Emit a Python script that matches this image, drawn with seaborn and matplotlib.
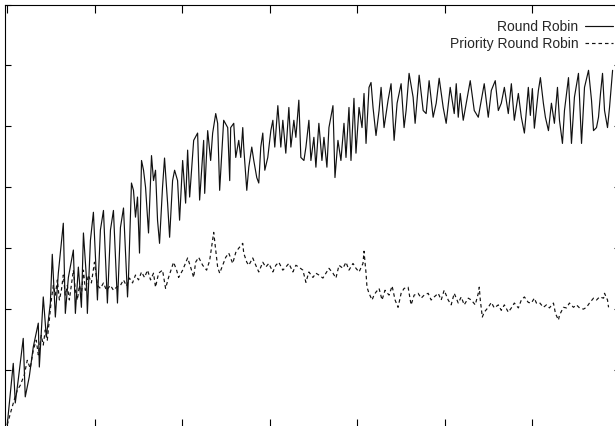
import pandas as pd
import seaborn as sns
import matplotlib.pyplot as plt

# Round Robin (solid line)
rr_time = [
    0.0, 0.69, 0.92, 1.26, 1.83, 2.06, 2.52, 2.98, 3.55, 3.67,
    4.12, 4.47, 4.93, 5.15, 5.50, 5.84, 6.41, 6.64, 6.99, 7.56,
    7.79, 8.13, 8.48, 8.71, 9.05, 9.16, 9.51, 9.85, 10.31, 10.65,
    11.0, 11.45, 11.8, 12.14, 12.6, 12.94, 13.29, 13.75, 13.86, 14.2,
    14.43, 14.66, 14.89, 15.12, 15.35, 15.58, 15.81, 16.15, 16.49, 16.72,
    16.95, 17.18, 17.41, 17.75, 17.98, 18.33, 18.56, 18.9, 19.13, 19.47,
    19.7, 20.05, 20.39, 20.62, 20.85, 21.31, 21.76, 21.99, 22.45, 22.57,
    22.91, 23.25, 23.48, 23.83, 24.05, 24.28, 24.74, 25.2, 25.43, 25.54,
    25.89, 26.12, 26.46, 26.69, 26.92, 27.03, 27.38, 27.61, 27.95, 28.18,
    28.52, 28.75, 28.98, 29.21, 29.44, 29.78, 30.13, 30.36, 30.58, 30.93,
    31.27, 31.5, 31.84, 32.19, 32.42, 32.76, 32.99, 33.33, 33.56, 33.91,
    34.14, 34.48, 34.71, 35.05, 35.28, 35.62, 35.97, 36.2, 36.54, 36.77,
    37.23, 37.46, 37.8, 38.14, 38.49, 38.72, 39.06, 39.29, 39.63, 39.86,
    40.21, 40.55, 40.78, 41.01, 41.35, 41.58, 41.81, 42.15, 42.5, 42.73,
    43.07, 43.53, 43.87, 44.22, 44.56, 45.02, 45.36, 45.59, 45.93, 46.39,
    46.62, 47.08, 47.54, 47.88, 48.22, 48.68, 49.03, 49.37, 49.83, 50.17,
    50.63, 51.09, 51.32, 51.55, 51.78, 52.12, 52.46, 52.92, 53.38, 53.84,
    54.18, 54.52, 54.98, 55.33, 55.78, 56.13, 56.47, 56.82, 57.27, 57.62,
    57.96, 58.42, 58.76, 59.11, 59.34, 59.56, 59.79, 60.02, 60.25, 60.71,
    60.94, 61.28, 61.51, 61.86, 62.2, 62.54, 62.89, 63.12, 63.46, 63.69,
    64.15, 64.49, 64.83, 65.29, 65.64, 65.98, 66.44, 66.78, 67.01, 67.35,
    67.58, 67.81, 68.04, 68.27, 68.61, 68.84, 69.19,
]
rr_value = [
    1.0, 11.1, 4.6, 8.4, 15.2, 5.6, 8.9, 13.8, 17.7, 10.5,
    22.0, 15.4, 21.0, 29.0, 18.7, 25.9, 34.1, 19.3, 25.2, 29.7,
    19.3, 26.9, 20.3, 32.5, 25.2, 19.3, 31.3, 35.9, 21.5, 33.0,
    36.2, 21.0, 33.0, 36.2, 21.0, 33.4, 36.6, 22.0, 25.2, 40.7,
    39.5, 35.1, 38.4, 29.2, 44.4, 42.8, 40.0, 32.5, 45.2, 41.1,
    42.8, 34.6, 30.8, 40.0, 44.8, 37.4, 31.8, 41.1, 42.8, 41.1,
    34.6, 44.4, 37.4, 46.1, 38.4, 47.7, 48.9, 37.9, 47.7, 39.0,
    49.3, 44.4, 48.9, 52.1, 50.5, 39.5, 51.0, 49.8, 41.1, 49.8,
    50.5, 44.9, 47.7, 44.9, 49.8, 46.6, 39.5, 43.3, 46.6, 44.4,
    41.6, 40.7, 46.6, 48.9, 42.8, 44.9, 49.3, 51.0, 46.6, 53.4,
    46.6, 51.0, 45.6, 53.1, 46.6, 51.0, 48.2, 54.3, 44.9, 44.4,
    46.6, 51.0, 44.4, 48.2, 43.3, 50.5, 44.4, 48.2, 43.3, 49.8,
    53.4, 41.6, 47.7, 44.4, 50.5, 44.9, 53.1, 44.4, 54.6, 45.6,
    53.1, 49.8, 55.4, 47.2, 56.4, 57.2, 53.1, 48.5, 52.6, 56.4,
    49.8, 54.3, 57.0, 47.7, 53.8, 57.0, 49.8, 52.6, 58.7, 54.8,
    50.5, 58.4, 52.6, 52.1, 57.5, 51.5, 53.8, 57.9, 53.1, 50.5,
    56.4, 52.1, 57.0, 51.5, 55.4, 51.0, 53.8, 57.5, 52.6, 51.5,
    54.3, 57.0, 51.5, 55.9, 57.5, 52.6, 53.8, 56.4, 52.1, 57.0,
    51.0, 55.4, 51.5, 48.9, 52.6, 56.4, 51.8, 56.2, 49.7, 55.9,
    58.0, 53.8, 51.5, 49.3, 53.8, 50.5, 56.4, 51.0, 47.2, 52.6,
    58.0, 47.2, 54.8, 58.7, 47.2, 56.4, 59.2, 54.3, 49.3, 49.8,
    51.5, 55.4, 58.7, 52.6, 49.8, 53.1, 59.2,
]

# Priority Round Robin (dashed line)
prr_time = [
    0.0, 0.46, 0.8, 1.15, 1.49, 1.95, 2.29, 2.63, 2.98, 3.32,
    3.55, 3.89, 4.12, 4.35, 4.58, 4.81, 5.04, 5.27, 5.5, 5.73,
    5.96, 6.19, 6.41, 6.64, 6.87, 7.1, 7.33, 7.56, 7.79, 8.02,
    8.25, 8.48, 8.71, 8.93, 9.28, 9.62, 9.97, 10.31, 10.65, 11.0,
    11.34, 11.8, 12.14, 12.49, 12.94, 13.29, 13.63, 13.97, 14.32, 14.66,
    15.01, 15.35, 15.69, 16.04, 16.38, 16.72, 16.95, 17.3, 17.75, 18.1,
    18.44, 19.01, 19.36, 19.59, 20.05, 20.62, 20.96, 21.31, 21.53, 21.88,
    22.34, 22.79, 23.14, 23.6, 24.05, 24.28, 24.63, 24.97, 25.32, 25.77,
    26.12, 26.46, 26.92, 27.03, 27.38, 27.61, 28.06, 28.41, 28.75, 29.21,
    29.55, 29.9, 30.36, 30.7, 31.04, 31.5, 31.84, 32.19, 32.65, 32.99,
    33.33, 33.79, 34.14, 34.48, 34.94, 35.28, 35.62, 36.08, 36.43, 36.77,
    37.23, 37.57, 37.92, 38.37, 38.72, 39.06, 39.52, 39.86, 40.21, 40.66,
    40.78, 41.01, 41.12, 41.35, 41.7, 41.92, 42.15, 42.5, 42.84, 43.18,
    43.64, 43.99, 44.33, 44.67, 45.02, 45.36, 45.82, 46.16, 46.51, 46.96,
    47.31, 47.65, 48.11, 48.45, 48.8, 49.26, 49.6, 49.94, 50.4, 50.74,
    51.09, 51.55, 51.89, 52.23, 52.69, 53.04, 53.49, 53.84, 53.95, 54.07,
    54.3, 54.52, 54.98, 55.33, 55.67, 56.13, 56.47, 56.82, 57.27, 57.62,
    57.96, 58.42, 58.76, 59.11, 59.56, 59.9, 60.25, 60.48, 60.82, 61.28,
    61.63, 61.97, 62.43, 62.66, 63.0, 63.12, 63.57, 63.92, 64.26, 64.72,
    65.06, 65.41, 65.86, 66.21, 66.55, 67.01, 67.35, 67.7, 68.16, 68.27,
    68.61, 68.73,
]
prr_value = [
    1.0, 3.4, 5.1, 6.7, 7.5, 9.2, 11.6, 10.3, 13.3, 14.9,
    12.5, 15.7, 14.1, 16.6, 14.9, 18.2, 21.5, 23.9, 22.3, 24.8,
    21.5, 23.1, 25.6, 22.3, 23.9, 21.5, 23.9, 26.4, 23.1, 21.5,
    23.9, 22.3, 26.4, 23.1, 25.6, 24.3, 27.7, 23.9, 23.4, 24.3,
    23.1, 23.9, 23.1, 23.6, 23.9, 24.8, 23.8, 25.1, 24.3, 25.6,
    24.8, 26.1, 25.2, 26.4, 24.8, 25.9, 23.6, 25.9, 26.4, 23.4,
    25.2, 27.7, 26.4, 25.2, 26.4, 28.4, 26.9, 25.2, 27.7, 28.5,
    27.2, 26.4, 28.0, 32.6, 26.9, 25.9, 27.2, 28.5, 29.2, 27.5,
    29.3, 30.0, 30.8, 29.2, 27.7, 27.2, 28.4, 27.2, 26.1, 27.7,
    26.9, 27.5, 26.1, 27.2, 27.7, 26.4, 26.9, 27.5, 26.1, 27.2,
    26.9, 26.4, 24.4, 26.1, 25.2, 25.9, 25.6, 25.1, 25.9, 26.7,
    25.9, 25.1, 27.2, 26.7, 27.7, 26.4, 27.5, 26.7, 26.1, 27.5,
    29.5, 25.9, 23.6, 22.6, 21.5, 22.3, 22.8, 23.4, 21.5, 23.1,
    22.3, 23.8, 21.5, 20.3, 22.6, 23.4, 23.6, 20.7, 22.3, 22.6,
    21.8, 22.3, 22.6, 21.5, 22.0, 22.6, 21.5, 23.1, 21.5, 20.7,
    22.6, 21.0, 22.0, 20.7, 21.8, 21.5, 20.7, 22.6, 23.6, 21.5,
    18.7, 19.5, 20.3, 21.1, 20.2, 20.7, 19.8, 20.7, 19.5, 20.2,
    21.0, 20.2, 21.5, 22.0, 21.1, 21.0, 21.8, 21.0, 21.1, 20.3,
    20.7, 20.2, 21.0, 19.3, 18.2, 19.0, 20.3, 20.2, 21.0, 20.3,
    20.7, 20.2, 20.0, 20.3, 21.0, 21.8, 21.5, 22.0, 21.8, 22.6,
    21.5, 20.3,
]

series_names = ['Round Robin', 'Priority Round Robin']

sns.set_theme(style='white')
plt.rcParams['font.family'] = ['Liberation Sans', 'DejaVu Sans']

df = pd.concat([
    pd.DataFrame({'time': rr_time, 'value': rr_value, 'scheduler': series_names[0]}),
    pd.DataFrame({'time': prr_time, 'value': prr_value, 'scheduler': series_names[1]}),
], ignore_index=True)

fig = plt.figure(figsize=(6.15, 4.26), dpi=100)
ax = fig.add_axes([0.0089, -0.0024, 0.9987, 0.9918])

sns.lineplot(data=df, x='time', y='value', hue='scheduler', style='scheduler',
             hue_order=series_names, style_order=series_names,
             palette=['#111111', '#111111'],
             dashes={'Round Robin': '', 'Priority Round Robin': (3, 2.5)},
             estimator=None, sort=False, linewidth=0.85, ax=ax)

ax.set_xlim(-0.2, 70)
ax.set_ylim(0.65, 70)
ax.set_xticks(range(0, 71, 10))
ax.set_yticks(range(10, 71, 10))
ax.set_xlabel('')
ax.set_ylabel('')
ax.tick_params(direction='in', top=True, right=True, bottom=True, left=True,
               labelbottom=False, labelleft=False, color='black', width=0.8)
ax.tick_params(axis='x', length=5.8)
ax.tick_params(axis='y', length=4.3)
for sp in ax.spines.values():
    sp.set_color('black')
    sp.set_linewidth(0.8)

handles, labels = ax.get_legend_handles_labels()
ax.legend(handles, labels, loc='upper right', bbox_to_anchor=(0.989, 0.964),
          frameon=False, markerfirst=False, handlelength=2.0, handletextpad=0.5,
          labelspacing=0.25, fontsize=10, borderaxespad=0, borderpad=0)

fig.savefig('out.png', dpi=100)
